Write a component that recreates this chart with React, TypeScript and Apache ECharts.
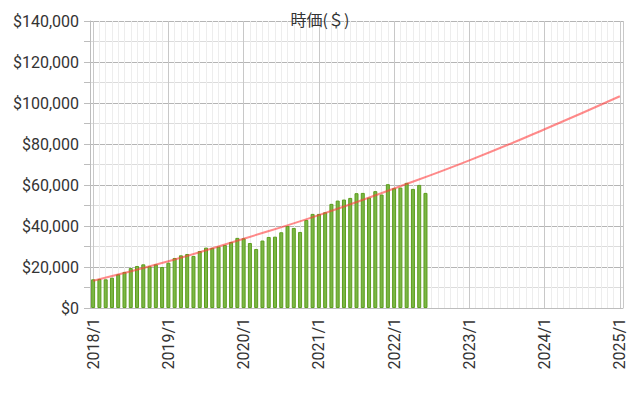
import React, { useEffect, useRef } from "react";
import * as echarts from "echarts";

const years = [2018, 2019, 2020, 2021, 2022, 2023, 2024];
const months = [1, 2, 3, 4, 5, 6, 7, 8, 9, 10, 11, 12];
const categories: string[] = [];
years.forEach((y) => months.forEach((m) => categories.push(`${y}/${m}`)));
categories.push("2025/1");

// Monthly market value ($), 2018/1 – 2022/6
const barValues = [
  14000, 14150, 14000, 14800, 16450, 17600, 19500, 20500, 21300, 20350, 21300, 20000,
  22100, 24400, 25700, 26350, 25400, 27800, 29450, 29300, 29950, 30750, 32200, 34200,
  34000, 31700, 28800, 32900, 34650, 34800, 36950, 40000, 39050, 37100, 42950, 45900,
  45900, 46700, 50800, 52400, 52900, 53700, 56000, 56150, 53850, 57000, 55350, 60400,
  58450, 58750, 61050, 58100, 60050, 56150,
];

// Trend line read at each January
const trendCategories = ["2018/1", "2019/1", "2020/1", "2021/1", "2022/1", "2023/1", "2024/1", "2025/1"];
const trendValues = [13300, 22800, 33800, 45300, 58300, 72000, 87200, 103300];

const title = "時価(＄)";
const FONT = 'Roboto, "Noto Sans CJK JP", sans-serif';

// helper grid axis with 2x categories so lines fall at category centres
const halfCats = Array.from({ length: categories.length * 2 }, (_, i) => String(i));

export default function App() {
  const ref = useRef<HTMLDivElement>(null);
  useEffect(() => {
    if (!ref.current) return;
    const chart = echarts.init(ref.current, null, { renderer: "svg" });
    const gridAxisBase = {
      type: "category" as const,
      data: halfCats,
      boundaryGap: true,
      position: "top" as const,
      axisLine: { show: false },
      axisTick: { show: false },
      axisLabel: { show: false },
    };
    chart.setOption({
      animation: false,
      textStyle: { fontFamily: FONT },
      title: {
        text: title,
        left: "center",
        top: 6,
        textStyle: { fontSize: 16, fontWeight: "normal", color: "#333", fontFamily: '"Noto Sans CJK JP", Roboto, sans-serif' },
      },
      grid: { left: 90, right: 17, top: 21, bottom: 86, containLabel: false },
      xAxis: [
        {
          type: "category",
          data: categories,
          boundaryGap: true,
          axisLine: { show: true, lineStyle: { color: "#bdbdbd", width: 1 } },
          axisTick: { show: false },
          splitLine: { show: false },
          axisLabel: {
            rotate: 90,
            interval: (i: number) => i % 12 === 0,
            fontSize: 16,
            color: "#333",
            margin: 10,
            fontFamily: FONT,
          },
        },
        {
          ...gridAxisBase,
          splitLine: {
            show: true,
            interval: (i: number) => i % 2 === 1 && ((i - 1) / 2) % 12 !== 0,
            lineStyle: { color: "#ededed", width: 1 },
          },
        },
        {
          ...gridAxisBase,
          splitLine: {
            show: true,
            interval: (i: number) => i % 2 === 1 && ((i - 1) / 2) % 12 === 0,
            lineStyle: { color: "#c8c8c8", width: 1 },
          },
        },
      ],
      yAxis: {
        type: "value",
        min: 0,
        max: 140000,
        interval: 20000,
        axisLine: { show: true, lineStyle: { color: "#bdbdbd" } },
        axisTick: { show: true, length: 6, lineStyle: { color: "#bdbdbd" } },
        minorTick: { show: true, splitNumber: 2, length: 6, lineStyle: { color: "#bdbdbd" } },
        splitLine: { show: true, lineStyle: { color: "#b5b5b5" } },
        minorSplitLine: { show: true, lineStyle: { color: "#dcdcdc" } },
        axisLabel: {
          fontSize: 16,
          color: "#333",
          margin: 11,
          fontFamily: FONT,
          formatter: (v: number) => "$" + v.toLocaleString("en-US"),
        },
      },
      series: [
        {
          type: "bar",
          xAxisIndex: 0,
          data: barValues,
          barWidth: 4,
          itemStyle: { color: "#7bb646", borderColor: "#5c9e1c", borderWidth: 1 },
          z: 2,
        },
        {
          type: "line",
          xAxisIndex: 0,
          data: trendCategories.map((c, i) => [c, trendValues[i]]),
          smooth: true,
          showSymbol: false,
          lineStyle: { color: "rgba(255,60,60,0.6)", width: 2 },
          z: 3,
        },
      ],
    });
    return () => chart.dispose();
  }, []);
  return (
    <div
      ref={ref}
      style={{ position: "fixed", left: 0, top: 0, width: 640, height: 394, background: "#fff" }}
    />
  );
}
